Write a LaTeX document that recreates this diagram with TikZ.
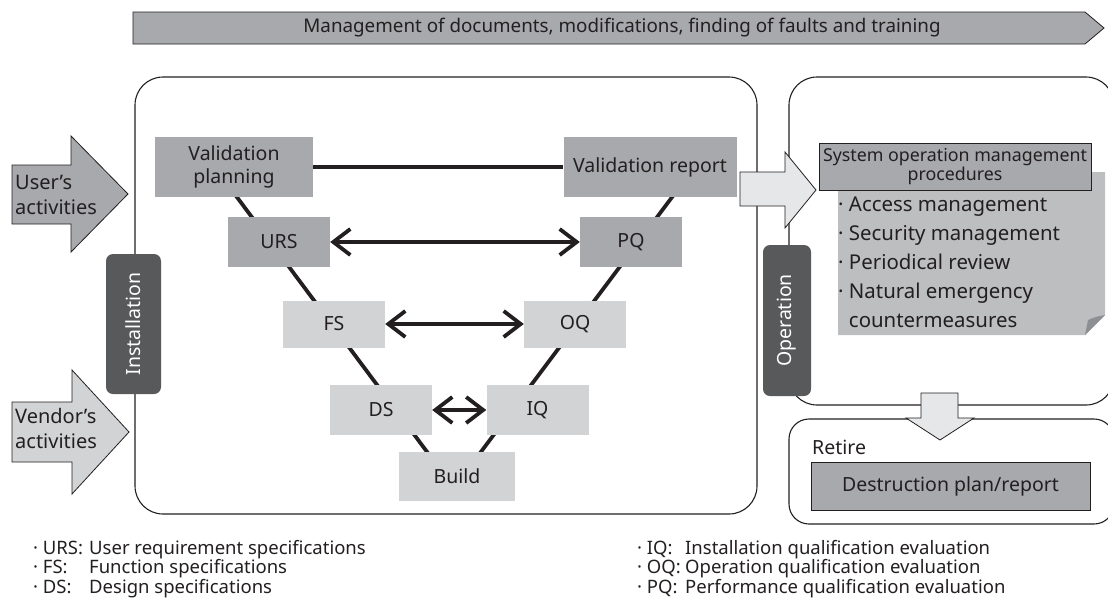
\documentclass[tikz,border=0pt]{standalone}
\usepackage{fontspec}
\setmainfont{Noto Sans}
\usetikzlibrary{arrows.meta,calc,backgrounds,positioning}

\definecolor{vgray}{HTML}{A7A9AC}
\definecolor{vlight}{HTML}{D1D3D4}
\definecolor{vpale}{HTML}{E6E7E8}
\definecolor{vpanel}{HTML}{BCBEC0}
\definecolor{vdark}{HTML}{58595B}
\definecolor{vfold}{HTML}{8D8F92}
\definecolor{ink}{HTML}{231F20}

\tikzset{
  lbl/.style={font=\fontsize{19.5}{23}\selectfont, text=ink},
  userbox/.style={lbl, fill=vgray, inner sep=0pt, minimum width=102pt, minimum height=50pt, align=center},
  vendbox/.style={userbox, fill=vlight},
  phase/.style={fill=vdark, rounded corners=7pt, text=white, rotate=90, inner sep=0pt, font=\fontsize{19.5}{23}\selectfont},
  frame/.style={ink, line width=1.1pt, rounded corners=28pt},
  vline/.style={ink, line width=3.8pt},
  twoway/.style={vline, {Straight Barb[length=17pt,width=26pt]}-{Straight Barb[length=17pt,width=26pt]}},
  flow/.style={fill=vpale, draw=ink, line width=0.8pt},
  legend/.style={font=\fontsize{18.5}{18.5}\selectfont, text=ink, align=left, inner sep=0pt},
}

\begin{document}
\begin{tikzpicture}[x=1pt,y=-1pt]
  \useasboundingbox (0,0) rectangle (1108,598);

  % Management band on top
  \draw[fill=vgray, draw=ink, line width=0.8pt] (133,12) -- (1085,12) -- (1104,28) -- (1085,44) -- (133,44) -- cycle;
  \node[lbl, font=\fontsize{18.8}{22}\selectfont] (mgmt) at (622,28) {Management of documents, modifications, finding of faults and training};

  % Frames
  \draw[frame] (135,77) rectangle (757,514);
  \draw[frame] (789,77) rectangle (1114,405);
  \draw[frame, rounded corners=20pt] (789,419) rectangle (1114,524);

  % User's and vendor's activities
  \draw[fill=vgray, draw=ink, line width=0.8pt] (12,165) -- (71,165) -- (71,136) -- (128,194) -- (71,252) -- (71,224) -- (12,224) -- cycle;
  \node[lbl, font=\fontsize{20}{25}\selectfont, align=left, anchor=west, inner sep=0pt] (user) at (15,195) {User’s\\activities};
  \draw[fill=vlight, draw=ink, line width=0.8pt] (12,402) -- (72,402) -- (72,370) -- (129,432) -- (72,494) -- (72,462) -- (12,462) -- cycle;
  \node[lbl, font=\fontsize{20}{25}\selectfont, align=left, anchor=west, inner sep=0pt] (vendor) at (15,428) {Vendor’s\\activities};

  % Phase tabs
  \node[phase, minimum width=140pt, minimum height=55pt] (inst) at (133.5,324) {Installation};
  \node[phase, minimum width=151pt, minimum height=48pt] (oper) at (787,320.5) {Operation};

  % V model
  \node[userbox, minimum width=158pt, minimum height=60pt] (vp) at (234,167) {Validation\\planning};
  \node[userbox, minimum width=173pt, minimum height=60pt] (vr) at (650,167) {Validation report};
  \node[userbox] (urs) at (279,242) {URS};
  \node[userbox] (pq) at (631,242) {PQ};
  \node[vendbox, minimum height=47pt] (fs) at (334,324) {FS};
  \node[vendbox, minimum height=47pt] (oq) at (575,324) {OQ};
  \node[vendbox] (ds) at (381,410) {DS};
  \node[vendbox] (iq) at (537.5,410) {IQ};
  \node[vendbox, minimum width=116pt, minimum height=49pt] (build) at (457,476.5) {Build};

  \coordinate (lt) at ($(vp.south)+(3,0)$);
  \coordinate (lb) at ($(build.north)+(-30,0)$);
  \coordinate (rt) at ($(vr.south)+(22,0)$);
  \coordinate (rb) at ($(build.north)+(24,0)$);
  \begin{scope}[on background layer]
    \draw[vline] ($(lt)!-10pt!(lb)$) -- ($(lb)!-10pt!(lt)$);
    \draw[vline] ($(rt)!-10pt!(rb)$) -- ($(rb)!-10pt!(rt)$);
  \end{scope}
  \draw[vline] (vp) -- (vr);
  \draw[twoway] (urs) -- (pq);
  \draw[twoway] (fs) -- (oq);
  \draw[twoway] (ds) -- (iq);

  % Hand over to operation
  \draw[flow] (740,172) -- (785,172) -- (785,152) -- (816,190) -- (785,228) -- (785,206) -- (740,206) -- cycle;

  % Operation procedures sheet
  \fill[vpanel] (838,172) -- (1105,172) -- (1105,315) -- (1085,335) -- (838,335) -- cycle;
  \fill[vfold] (1085,335) -- (1088,320) .. controls (1095,317) .. (1105,315) -- cycle;
  \node[userbox, draw=ink, line width=0.8pt, minimum width=272pt, minimum height=47pt, font=\fontsize{17.8}{19}\selectfont] (sop) at (955,166.5) {System operation management\\procedures};
  \node[lbl, font=\fontsize{20.4}{29}\selectfont, align=left, anchor=north west, inner sep=0pt] (items) at (838,197) {· Access management\\· Security management\\· Periodical review\\· Natural emergency\\\phantom{· }countermeasures};

  % Retire
  \draw[flow] (921,393) -- (958,393) -- (958,418) -- (974,418) -- (940,440) -- (906,418) -- (921,418) -- cycle;
  \node[lbl, anchor=west, inner sep=0pt] (retire) at (812,447) {Retire};
  \node[userbox, draw=ink, line width=0.8pt, minimum width=279pt, minimum height=48pt] (destr) at (950.5,486) {Destruction plan/report};

  % Legend
  \node[legend, anchor=north west] (legl) at (33,540) {\makebox[56pt][l]{· URS:}User requirement specifications\\\makebox[56pt][l]{· FS:}Function specifications\\\makebox[56pt][l]{· DS:}Design specifications};
  \node[legend, anchor=north west] (legr) at (637,540) {\makebox[48pt][l]{· IQ:}Installation qualification evaluation\\\makebox[48pt][l]{· OQ:}Operation qualification evaluation\\\makebox[48pt][l]{· PQ:}Performance qualification evaluation};
\end{tikzpicture}
\end{document}
